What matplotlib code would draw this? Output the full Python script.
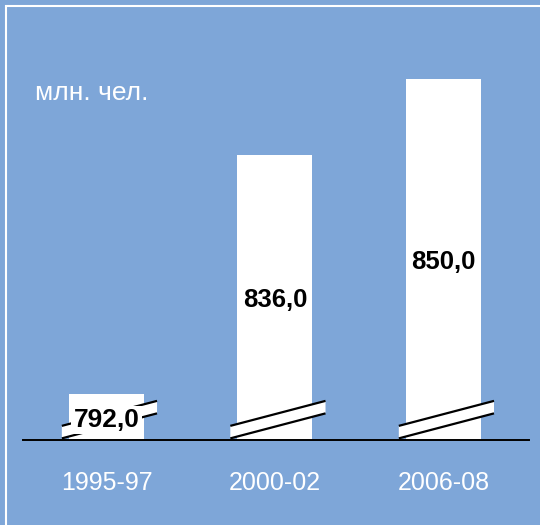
import matplotlib.pyplot as plt
from matplotlib.patches import Polygon, Rectangle

periods = ['1995-97', '2000-02', '2006-08']
values = [792.0, 836.0, 850.0]
value_labels = ['792,0', '836,0', '850,0']
unit_label = 'млн. чел.'

base = 783.5  # broken axis: bars start here
bg = '#7EA6D8'

plt.rcParams['font.family'] = ['Liberation Sans', 'DejaVu Sans']

fig = plt.figure(figsize=(5.4, 5.25), dpi=100)
fig.patch.set_facecolor(bg)
ax = fig.add_axes([0, 0, 1, 1])
ax.set_facecolor(bg)
ax.axis('off')

# pixel scale: ~168.5 px per category, ~5.43 px per unit
ax.set_xlim(-0.632, 2.573)
ax.set_ylim(767.85, 864.5)

x = list(range(len(periods)))
heights = [v - base for v in values]
ax.bar(x, heights, bottom=base, width=0.445, color='white', zorder=2)

# baseline
ax.plot([-0.496, 2.507], [base, base], color='black', lw=1.4, zorder=4)

# break marks on each bar
for i in x:
    x0, x1 = i - 0.265, i + 0.30
    y0, y1 = base + 2.6, base + 7.2
    gap = 2.3
    ax.add_patch(Polygon([[x0, y0], [x1, y1], [x1, y1 - gap], [x0, y0 - gap]],
                         closed=True, facecolor='white', edgecolor='none', zorder=3))
    ax.plot([x0, x1], [y0, y1], color='black', lw=1.6, zorder=3, solid_capstyle='butt')
    ax.plot([x0, x1], [y0 - gap, y1 - gap], color='black', lw=1.6, zorder=3, solid_capstyle='butt')

# value labels in the middle of each bar
for i, (v, lab) in enumerate(zip(values, value_labels)):
    t = ax.text(i, (base + v) / 2 - 0.5, lab, ha='center', va='center',
                fontsize=19 if i == 0 else 18.5, fontweight='bold',
                color='black', zorder=5)
    if i == 0:
        t.set_bbox(dict(facecolor='white', edgecolor='none', pad=1.5))

# category labels
for i, p in enumerate(periods):
    ax.text(i, base - 7.95, p, ha='center', va='center', fontsize=18, color='white')

fig.text(35 / 540, 1 - 93 / 525, unit_label, ha='left', va='center',
         fontsize=19, color='white')

# white frame (only left and top edges visible)
fig.patches.append(Rectangle((5.5 / 540, -0.1), 1.2, 1 - 5.5 / 525 + 0.1,
                             transform=fig.transFigure, fill=False,
                             edgecolor='white', lw=1.5))

fig.savefig('out.png', dpi=100, facecolor=bg)
